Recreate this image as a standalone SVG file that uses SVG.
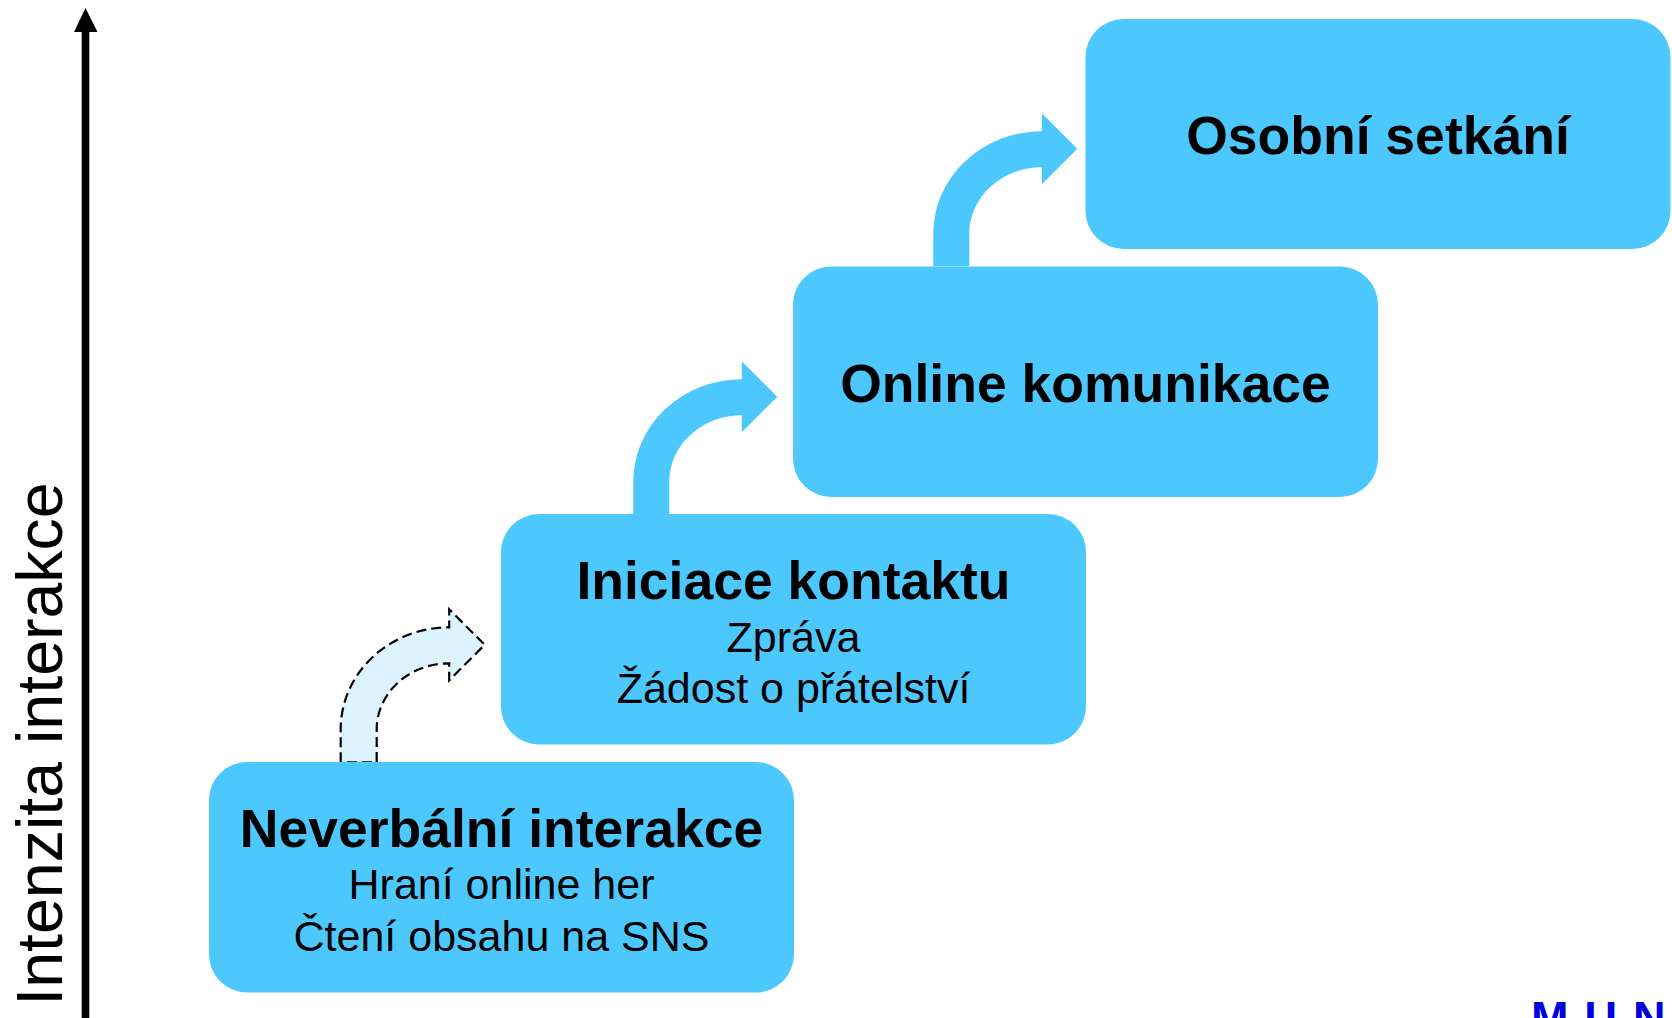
<svg xmlns="http://www.w3.org/2000/svg" width="1672" height="1018" viewBox="0 0 1672 1018">
<defs>
<style>
.box{fill:#4CC8FF;}
.title{font-family:"Liberation Sans",Arial,sans-serif;font-weight:bold;font-size:53.5px;fill:#000;text-anchor:middle;}
.sub{font-family:"Liberation Sans",Arial,sans-serif;font-size:43px;fill:#000;text-anchor:middle;}
.solid{fill:#4CC8FF;}
.dashed{fill:#DDF3FF;stroke:#000;stroke-width:2.2;stroke-dasharray:10 5;}
</style>
<path id="curveArrow" d="M0,0 L0,-33 A108.5,102 0 0 1 108.5,-135 L108.5,-153 L144,-117.5 L108.5,-82 L108.5,-99 A72.5,66 0 0 0 36,-33 L36,0 Z"/>
</defs>
<rect width="1672" height="1018" fill="#fff"/>
<g id="axis">
<line x1="85.5" y1="1018" x2="85.5" y2="30" stroke="#000" stroke-width="7.6"/>
<polygon points="85.5,8 74,32 97.5,32" fill="#000"/>
<text transform="translate(62,744) rotate(-90)" font-family="Liberation Sans,Arial,sans-serif" font-size="64.5" text-anchor="middle" fill="#000">Intenzita interakce</text>
</g>
<g id="connectors">
<use href="#curveArrow" class="dashed" transform="translate(340.7,762.3)"/>
<use href="#curveArrow" class="solid" transform="translate(633.3,514.3)"/>
<use href="#curveArrow" class="solid" transform="translate(933.3,266.3)"/>
</g>
<g id="node-neverbalni">
<rect class="box" x="209" y="762" width="585" height="230.5" rx="38"/>
<text class="title" x="501.5" y="847">Neverbální interakce</text>
<text class="sub" x="501.5" y="899">Hraní online her</text>
<text class="sub" x="501.5" y="951">Čtení obsahu na SNS</text>
</g>
<g id="node-iniciace">
<rect class="box" x="501" y="514" width="585" height="230.5" rx="38"/>
<text class="title" x="793.5" y="599">Iniciace kontaktu</text>
<text class="sub" x="793.5" y="651.5">Zpráva</text>
<text class="sub" x="793.5" y="703">Žádost o přátelství</text>
</g>
<g id="node-online">
<rect class="box" x="793" y="266.5" width="585" height="230.5" rx="38"/>
<text class="title" x="1085.5" y="402">Online komunikace</text>
</g>
<g id="node-osobni">
<rect class="box" x="1085.5" y="19" width="585" height="230" rx="38"/>
<text class="title" x="1378" y="154">Osobní setkání</text>
</g>
<g id="logo">
<text x="1531" y="1033" font-family="Liberation Sans,Arial,sans-serif" font-weight="bold" font-size="45" letter-spacing="16" fill="#0000DC">MUN</text>
</g>
</svg>
